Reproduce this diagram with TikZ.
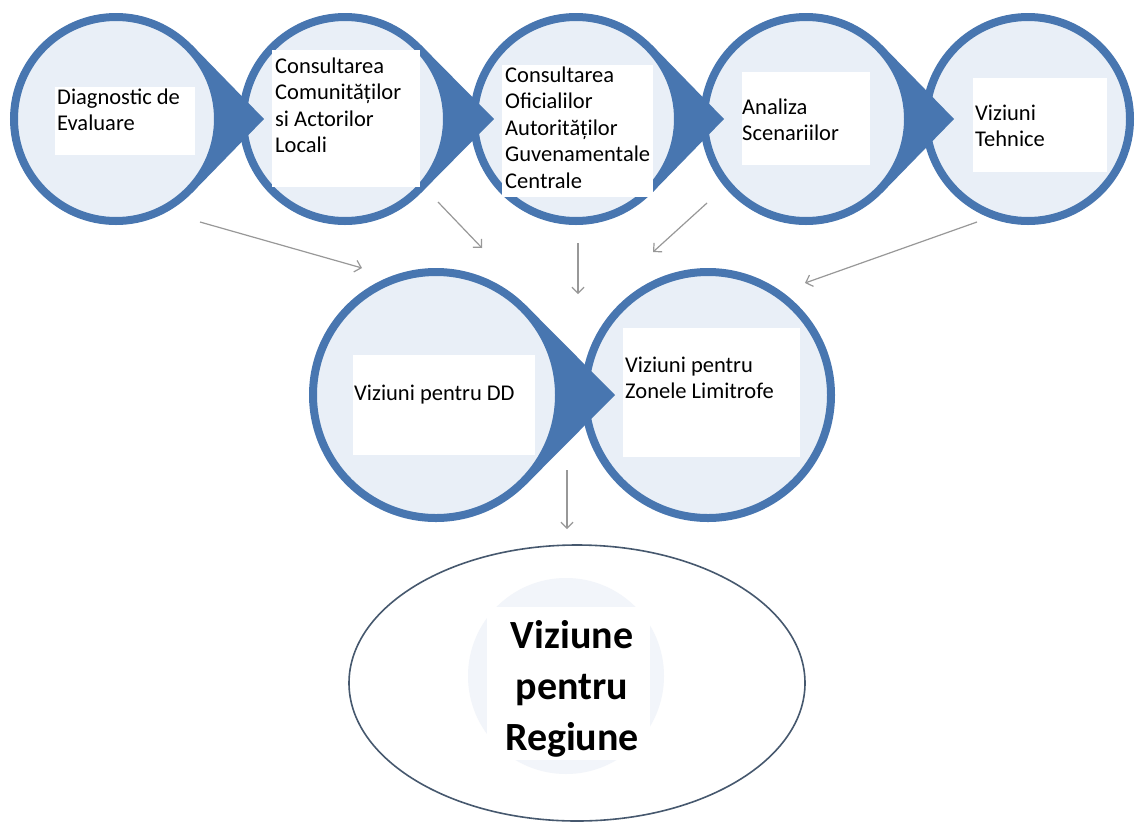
\documentclass[tikz,border=0pt]{standalone}
\usepackage{fontspec}
\setmainfont{Carlito}
\usetikzlibrary{arrows.meta,calc,shapes.geometric}
\definecolor{ringblue}{RGB}{72,118,176}
\definecolor{pale}{RGB}{233,239,247}
\definecolor{faint}{RGB}{242,245,250}
\definecolor{arrowgray}{RGB}{152,152,152}
\definecolor{ellline}{RGB}{70,88,110}
\tikzset{
  stage/.style={circle, fill=pale, draw=ringblue, line width=8pt, minimum size=#1, inner sep=0pt},
  pointer/.style={fill=ringblue},
  card/.style={fill=white, inner sep=0pt, anchor=north west},
  lbl/.style={font=\fontsize{22.5}{26.5}\selectfont, inner sep=0pt, align=left, anchor=north west,
              yshift=18.55pt, execute at begin node=\strut},
  biglbl/.style={font=\fontsize{40}{51}\selectfont\bfseries, inner sep=0pt, align=center, anchor=north,
              yshift=35.7pt, execute at begin node=\strut},
  garrow/.style={draw=arrowgray, line width=1.2pt, -{Straight Barb[length=6pt,width=12pt]}},
}
\begin{document}
\begin{tikzpicture}[x=1pt,y=-1pt]
\useasboundingbox (0,0) rectangle (1136,823);
\fill[white] (0,0) rectangle (1136,823);

% ---------- bottom ellipse ----------
\node[ellipse, draw=ellline, line width=1.6pt, fill=white, minimum width=456pt, minimum height=276pt, inner sep=0pt] (vr) at (577,683) {};
\fill[faint] (566,676) circle[radius=98];
\node[card, minimum width=163pt, minimum height=153pt] (vrcard) at (487,607) {};
\node[biglbl] (vrtext) at (572,656) {Viziune\\pentru\\Regiune};

% ---------- second row ----------
\coordinate (p6) at (436,395);
\coordinate (p7) at (708,395);
\node[stage=246pt] (c7) at (p7) {};
\fill[pointer] (615,395) -- ($(p6)+(44.8:127)$) -- ($(p6)+(-44.8:127)$) -- cycle;
\node[stage=246pt] (c6) at (p6) {};

% ---------- top row ----------
\coordinate (p1) at (116,119);
\coordinate (p2) at (345,119);
\coordinate (p3) at (576,119);
\coordinate (p4) at (806,119);
\coordinate (p5) at (1028,119);
\node[stage=204pt] (c5) at (p5) {};
\fill[pointer] (954,119) -- ($(p4)+(44.25:106)$) -- ($(p4)+(-44.25:106)$) -- cycle;
\node[stage=204pt] (c4) at (p4) {};
\fill[pointer] (724,119) -- ($(p3)+(44.25:106)$) -- ($(p3)+(-44.25:106)$) -- cycle;
\node[stage=204pt] (c3) at (p3) {};
\fill[pointer] (494,119) -- ($(p2)+(44.25:106)$) -- ($(p2)+(-44.25:106)$) -- cycle;
\node[stage=204pt] (c2) at (p2) {};
\fill[pointer] (264,119) -- ($(p1)+(44.25:106)$) -- ($(p1)+(-44.25:106)$) -- cycle;
\node[stage=204pt] (c1) at (p1) {};

% ---------- white cards ----------
\node[card, minimum width=140pt, minimum height=68pt]  (r1) at (55,87) {};
\node[card, minimum width=148pt, minimum height=137pt] (r2) at (272,50) {};
\node[card, minimum width=151pt, minimum height=132pt] (r3) at (502,65) {};
\node[card, minimum width=128pt, minimum height=93pt]  (r4) at (742,72) {};
\node[card, minimum width=134pt, minimum height=94pt]  (r5) at (973,78) {};
\node[card, minimum width=182pt, minimum height=100pt] (r6) at (353,355) {};
\node[card, minimum width=177pt, minimum height=129pt] (r7) at (623,328) {};

% ---------- texts ----------
\node[lbl] (t1) at (57,107) {Diagnostic de\\Evaluare};
\node[lbl] (t2) at (275,76) {Consultarea\\Comunităților\\si Actorilor\\Locali};
\node[lbl] (t3) at (505,85) {Consultarea\\Oficialilor\\Autorităților\\Guvenamentale\\Centrale};
\node[lbl] (t4) at (742,117) {Analiza\\Scenariilor};
\node[lbl] (t5) at (975,123) {Viziuni\\Tehnice};
\node[lbl] (t6) at (354,400) {Viziuni pentru DD};
\node[lbl] (t7) at (625,375) {Viziuni pentru\\Zonele Limitrofe};

% ---------- gray connectors ----------
\coordinate (a1s) at (200,222); \coordinate (a1e) at (362,268);
\coordinate (a2s) at (438,202); \coordinate (a2e) at (482,248);
\coordinate (a3s) at (578,243); \coordinate (a3e) at (578,294);
\coordinate (a4s) at (707,203); \coordinate (a4e) at (653,252);
\coordinate (a5s) at (977,222); \coordinate (a5e) at (805,283);
\coordinate (a6s) at (567,470); \coordinate (a6e) at (567,529);
\draw[garrow] (a1s) -- (a1e);
\draw[garrow] (a2s) -- (a2e);
\draw[garrow] (a3s) -- (a3e);
\draw[garrow] (a4s) -- (a4e);
\draw[garrow] (a5s) -- (a5e);
\draw[garrow] (a6s) -- (a6e);
\end{tikzpicture}
\end{document}
